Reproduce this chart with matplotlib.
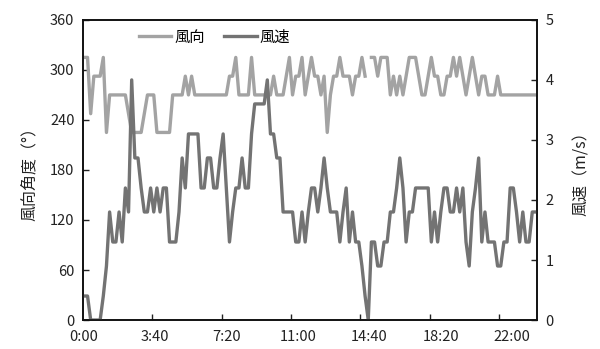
import matplotlib
matplotlib.use("Agg")
import matplotlib.pyplot as plt
import numpy as np

plt.rcParams["font.family"] = ["Noto Sans CJK JP", "DejaVu Sans"]

# 10-minute records, 0:00 .. 23:50 (144 points)
wind_dir = [
    315, 315, 247.5, 292.5, 292.5, 292.5, 315, 225, 270, 270,
    270, 270, 270, 270, 247.5, 225, 225, 225, 225, 247.5,
    270, 270, 270, 225, 225, 225, 225, 225, 270, 270,
    270, 270, 292.5, 270, 292.5, 270, 270, 270, 270, 270,
    270, 270, 270, 270, 270, 270, 292.5, 292.5, 315, 270,
    270, 270, 270, 315, 270, 270, 270, 270, 270, 270,
    292.5, 270, 270, 270, 292.5, 315, 270, 292.5, 292.5, 315,
    270, 292.5, 315, 292.5, 292.5, 270, 292.5, 225, 270, 292.5,
    292.5, 315, 292.5, 292.5, 292.5, 270, 292.5, 292.5, 315, 292.5,
    np.nan, 315, 315, 292.5, 315, 315, 315, 270, 292.5, 270,
    292.5, 270, 292.5, 315, 315, 315, 292.5, 270, 270, 292.5,
    315, 292.5, 292.5, 270, 270, 292.5, 292.5, 315, 292.5, 315,
    292.5, 270, 292.5, 315, 292.5, 270, 292.5, 292.5, 270, 270,
    270, 292.5, 270, 270, 270, 270, 270, 270, 270, 270,
    270, 270, 270, 270,
]
wind_speed = [
    0.4, 0.4, 0.0, 0.0, 0.0, 0.0, 0.4, 0.9, 1.8, 1.3,
    1.3, 1.8, 1.3, 2.2, 1.8, 4.0, 2.7, 2.7, 2.2, 1.8,
    1.8, 2.2, 1.8, 2.2, 1.8, 2.2, 2.2, 1.3, 1.3, 1.3,
    1.8, 2.7, 2.2, 3.1, 3.1, 3.1, 3.1, 2.2, 2.2, 2.7,
    2.7, 2.2, 2.2, 2.7, 3.1, 2.2, 1.3, 1.8, 2.2, 2.2,
    2.7, 2.2, 2.2, 3.1, 3.6, 3.6, 3.6, 3.6, 4.0, 3.1,
    3.1, 2.7, 2.7, 1.8, 1.8, 1.8, 1.8, 1.3, 1.3, 1.8,
    1.3, 1.8, 2.2, 2.2, 1.8, 2.2, 2.7, 2.2, 1.8, 1.8,
    1.8, 1.3, 1.8, 2.2, 1.3, 1.8, 1.3, 1.3, 0.9, 0.4,
    0.0, 1.3, 1.3, 0.9, 0.9, 1.3, 1.3, 1.8, 1.8, 2.2,
    2.7, 2.2, 1.3, 1.8, 1.8, 2.2, 2.2, 2.2, 2.2, 2.2,
    1.3, 1.8, 1.3, 1.8, 2.2, 2.2, 1.8, 1.8, 2.2, 1.8,
    2.2, 1.3, 0.9, 1.8, 2.2, 2.7, 1.3, 1.8, 1.3, 1.3,
    1.3, 0.9, 0.9, 1.3, 1.3, 2.2, 2.2, 1.8, 1.3, 1.8,
    1.3, 1.3, 1.8, 1.8,
]
time_labels = ["0:00", "3:40", "7:20", "11:00", "14:40", "18:20", "22:00"]

minutes = 5 + 10 * np.arange(len(wind_speed))

fig = plt.figure(figsize=(6.0, 3.49), dpi=100)
ax = fig.add_axes([0.138, 0.083, 0.757, 0.86])
ax2 = ax.twinx()

c_dir = "#a3a3a3"
c_spd = "#737373"
l1, = ax.plot(minutes, wind_dir, color=c_dir, lw=2.4, label="風向")
l2, = ax2.plot(minutes, wind_speed, color=c_spd, lw=2.4, label="風速")

ax.set_xlim(0, 1440)
ax.set_ylim(0, 360)
ax.set_yticks(np.arange(0, 361, 60))
ax2.set_ylim(0, 5)
ax2.set_yticks(np.arange(0, 6, 1))

# tick marks every 22 records, labels sit slightly apart (as in source)
ax.set_xticks(np.arange(220, 1440, 220))
ax.set_xticklabels([])
ax.set_xticks(3 + 226.3 * np.arange(len(time_labels)), minor=True)
ax.set_xticklabels(time_labels, minor=True)
ax.tick_params(axis="x", which="minor", length=0, pad=7)

for a in (ax, ax2):
    a.tick_params(which="major", direction="in", length=4, width=1,
                  labelsize=10.5, colors="#222222", pad=6)
    for s in a.spines.values():
        s.set_linewidth(1.2)
        s.set_color("#111111")
ax.tick_params(axis="x", which="minor", labelsize=10.5, colors="#222222")

ax.set_ylabel("風向角度（°）", fontsize=11.5, color="#222222", labelpad=9)
ax2.set_ylabel("風速（m/s）", fontsize=11.5, color="#222222", labelpad=14,
               rotation=90)

ax.legend([l1, l2], ["風向", "風速"], loc="center",
          bbox_to_anchor=(0.29, 0.943), ncol=2, frameon=False,
          fontsize=11, handlelength=2.1, columnspacing=1.3,
          handletextpad=0.2)

fig.savefig("out.png", dpi=100)
